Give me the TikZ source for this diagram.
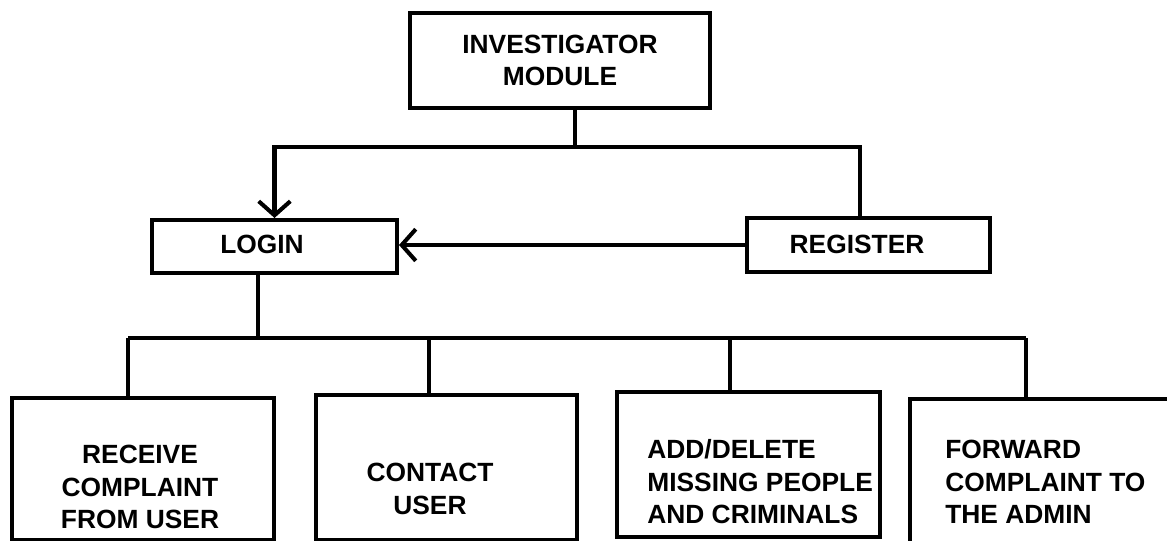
\documentclass[tikz,border=0pt]{standalone}
\usepackage{fontspec}
\setmainfont{Liberation Sans}
\usetikzlibrary{arrows.meta}

\tikzset{
    block/.style={draw, line width=2.3pt, inner sep=0pt},
    blocktext/.style={inner sep=0pt, font=\bfseries\fontsize{15}{18.5}\selectfont},
    link/.style={line width=2.3pt},
    barb/.style={link, -{Straight Barb[length=8pt, width=18pt]}}
}

\begin{document}
\begin{tikzpicture}[x=0.02cm, y=-0.02cm]
                    \useasboundingbox (0, 0) rectangle (1167, 541);
                    \clip (0, 0) rectangle (1167, 541);

                    \node[block, blocktext, align=center, minimum width=6cm, minimum height=1.9cm] (inv) at (560, 60.5) {INVESTIGATOR\\MODULE};
                    \node[block, minimum width=4.9cm, minimum height=1.06cm] (login) at (274.5, 246.5) {};
                    \node[block, minimum width=4.86cm, minimum height=1.08cm] (reg) at (868.5, 245) {};
                    \node[block, minimum width=5.24cm, minimum height=2.84cm] (recv) at (143, 469) {};
                    \node[block, minimum width=5.22cm, minimum height=2.9cm] (cont) at (446.5, 467.5) {};
                    \node[block, minimum width=5.26cm, minimum height=2.9cm] (addel) at (748.5, 464.5) {};
                    \node[block, minimum width=5.4cm, minimum height=3.22cm] (fwd) at (1045, 479.5) {};

                    \node[blocktext] (login-t) at (262, 244) {LOGIN};
                    \node[blocktext] (reg-t) at (857, 244) {REGISTER};
                    \node[blocktext, align=center] (recv-t) at (140, 487) {RECEIVE\\COMPLAINT\\FROM USER};
                    \node[blocktext, align=center] (cont-t) at (430, 489) {CONTACT\\USER};
                    \node[blocktext, align=left, anchor=west] (addel-t) at (647, 482) {ADD/DELETE\\MISSING PEOPLE\\AND CRIMINALS};
                    \node[blocktext, align=left, anchor=west] (fwd-t) at (945, 482) {FORWARD\\COMPLAINT TO\\THE ADMIN};

                    \coordinate (top) at (575, 147);
                    \coordinate (regdrop) at (860, 147);
                    \coordinate (bus) at (258, 338);
                    \coordinate (d1) at (128, 338);
                    \coordinate (d2) at (429, 338);
                    \coordinate (d3) at (730, 338);
                    \coordinate (d4) at (1026, 338);

                    \draw[link]
                        (inv.south -| top) -- (top)
                        (top) -- (regdrop) -- (regdrop |- reg.north)
                        (bus |- login.south) -- (bus)
                        (d1) -- (d4)
                        (d1) -- (d1 |- recv.north)
                        (d2) -- (d2 |- cont.north)
                        (d3) -- (d3 |- addel.north)
                        (d4) -- (d4 |- fwd.north)
                    ;
                    \draw[barb] (top) -| (login.north);
                    \draw[barb] (reg.west) -- (reg.west -| login.east);
                \end{tikzpicture}
\end{document}
